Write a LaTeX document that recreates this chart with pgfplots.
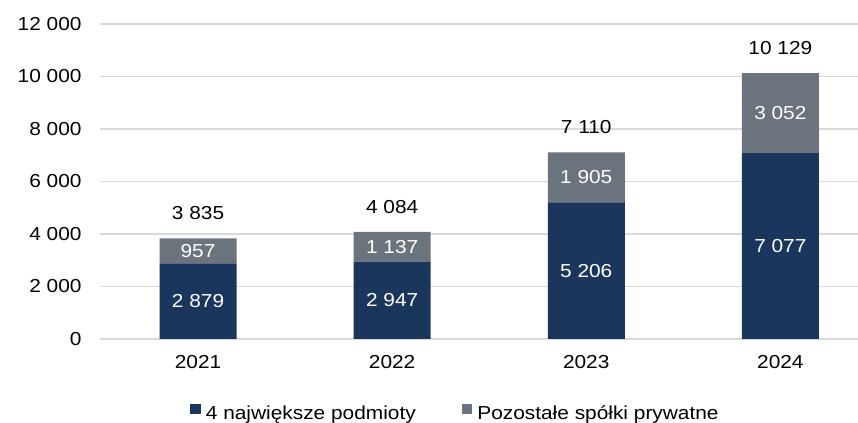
\documentclass[border=0pt]{standalone}
\usepackage{pgfplots}
\pgfplotsset{compat=1.18}
\usepackage{fontspec}
\setmainfont[FakeStretch=1.11]{Liberation Sans}
\definecolor{navy}{HTML}{1B365D}
\definecolor{slate}{HTML}{6B737C}
\definecolor{gridc}{HTML}{D9D9D9}
\pgfkeys{/pgf/number format/.cd,1000 sep={\ },assume math mode=true}
\pgfplotsset{
  common/.style={
    at={(100bp,84bp)}, anchor=south west,
    scale only axis, width=758bp, height=315bp,
    xmin=-0.505, xmax=3.4, ymin=0, ymax=12000,
  }
}
\begin{document}
\fontsize{18.8bp}{22bp}\selectfont
\begin{tikzpicture}
\useasboundingbox (0,0) rectangle (858bp,423bp);
\begin{axis}[
  common,
  ybar stacked, bar width=77bp,
  xtick=data, xticklabels={2021,2022,2023,2024},
  ytick={0,2000,4000,6000,8000,10000,12000},
  scaled y ticks=false,
  /pgf/number format/1000 sep={\ },
  /pgf/number format/assume math mode=true,
  axis line style={draw=none},
  major tick length=0pt,
  tick style={draw=none},
  ymajorgrids, grid style={gridc, line width=1.5bp},
  yticklabel style={xshift=-12bp},
  xticklabel style={yshift=-10bp},
  legend style={at={(0.471,-0.238)}, anchor=center, draw=none, fill=none,
    legend columns=2, /tikz/every even column/.append style={column sep=41bp},
    nodes={inner xsep=5bp}},
  legend image code/.code={\fill[#1,draw=none] (0bp,-0.5bp) rectangle (10.5bp,10bp);},
]
\addplot[fill=navy, draw=none]
  coordinates {(0,2879) (1,2947) (2,5206) (3,7077)};
\addplot[fill=slate, draw=none]
  coordinates {(0,957) (1,1137) (2,1905) (3,3052)};
\legend{4 największe podmioty, Pozostałe spółki prywatne}
\end{axis}
\begin{axis}[
  common, hide axis,
  point meta=explicit symbolic,
]
% segment labels (placed at segment centres)
\addplot[draw=none, mark=none, nodes near coords,
  every node near coord/.append style={white, anchor=center}]
  coordinates {(0,1439.5)[2 879] (1,1473.5)[2 947] (2,2603)[5 206] (3,3538.5)[7 077]
               (0,3357.5)[957] (1,3515.5)[1 137] (2,6158.5)[1 905] (3,8603)[3 052]};
% totals
\addplot[draw=none, mark=none, nodes near coords,
  every node near coord/.append style={black, anchor=center, yshift=25bp}]
  coordinates {(0,3835)[3 835] (1,4084)[4 084] (2,7110)[7 110] (3,10129)[10 129]};
\end{axis}
\end{tikzpicture}
\end{document}
